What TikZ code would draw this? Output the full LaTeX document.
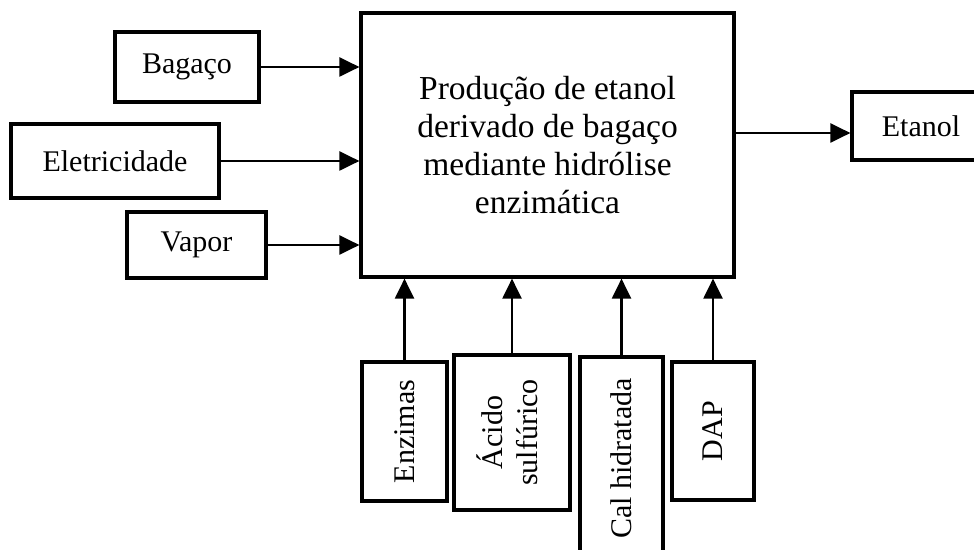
\documentclass[tikz,border=0pt]{standalone}
\usepackage{fontspec}
\setmainfont{Liberation Serif}
\usetikzlibrary{arrows.meta}
\begin{document}
\begin{tikzpicture}[x=0.5pt,y=-0.5pt,
  box/.style={draw, line width=1.6pt, rectangle, inner sep=0pt,
    font=\fontsize{15}{17.5}\selectfont, align=center},
  flow/.style={line width=1.1pt, -{Triangle[length=10pt,width=9.5pt]}}]
\useasboundingbox (0,0) rectangle (974,550);
% process block
\node[box, minimum width=186.5pt, minimum height=132pt,
  font=\fontsize{16.75}{19}\selectfont] (main) at (547.5,145)
  {Produção de etanol\\derivado de bagaço\\mediante hidrólise\\enzimática};
% inputs on the left
\node[box, minimum width=72pt, minimum height=35pt] (bagaco) at (187,67) {Bagaço};
\node[box, minimum width=104pt, minimum height=37pt] (eletr) at (115,161) {Eletricidade};
\node[box, minimum width=69.5pt, minimum height=33pt] (vapor) at (196.5,245) {Vapor};
% output
\node[box, minimum width=69pt, minimum height=34pt] (etanol) at (921,126) {Etanol};
% inputs from below
\node[box, minimum width=42.5pt, minimum height=69.5pt] (enz) at (404.5,431.5) {\rotatebox{90}{Enzimas}};
\node[box, minimum width=58pt, minimum height=77.5pt] (acido) at (512,432.5)
  {\rotatebox{90}{\begin{tabular}{@{}c@{}}Ácido\\sulfúrico\end{tabular}}};
\node[box, minimum width=41.5pt, minimum height=101.5pt] (cal) at (621.5,458.5) {\rotatebox{90}{Cal hidratada}};
\node[box, minimum width=41pt, minimum height=69pt] (dap) at (713,431) {\rotatebox{90}{DAP}};
% connectors
\draw[flow] (bagaco.east) -- (bagaco.east -| main.west);
\draw[flow] (eletr.east) -- (eletr.east -| main.west);
\draw[flow] (vapor.east) -- (vapor.east -| main.west);
\draw[flow] (main.east |- 0,133) -- (etanol.west |- 0,133);
\draw[flow] (enz.north) -- (enz.north |- main.south);
\draw[flow] (acido.north) -- (acido.north |- main.south);
\draw[flow] (cal.north) -- (cal.north |- main.south);
\draw[flow] (dap.north) -- (dap.north |- main.south);
\end{tikzpicture}
\end{document}
